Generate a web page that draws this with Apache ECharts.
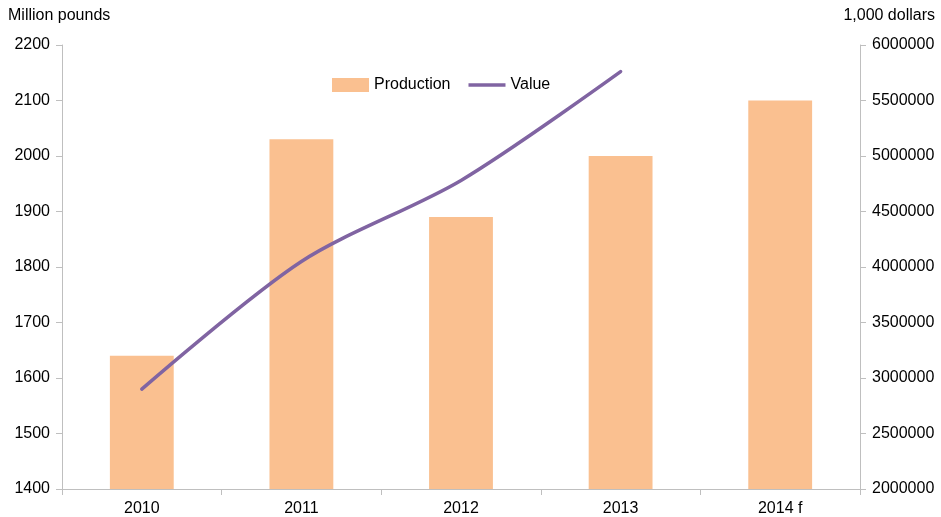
<!DOCTYPE html>
<html>
<head>
<meta charset="utf-8">
<script src="https://cdn.jsdelivr.net/npm/echarts@6/dist/echarts.min.js"></script>
<style>
  html, body { margin: 0; padding: 0; background: #fff; }
  #chart { width: 941px; height: 517px; }
</style>
</head>
<body>
<div id="chart"></div>
<script>
const years = ['2010', '2011', '2012', '2013', '2014 f']
const production = [1640, 2030, 1890, 2000, 2100]
// value in 1,000 dollars, no figure for 2014
const value = [2900000, 4050000, 4780000, 5760000, null]

const chart = echarts.init(document.getElementById('chart'))

const axisGray = '#BFBFBF'
const font = 'Liberation Sans, Arial'
const textStyle = { color: '#000', fontFamily: font, fontSize: 16 }

chart.setOption({
  animation: false,
  grid: { left: 62, right: 81, top: 45, bottom: 28 },
  legend: {
    left: 327,
    top: 72,
    itemWidth: 37,
    itemHeight: 14,
    itemGap: 18,
    textStyle: { ...textStyle, fontSize: 16 },
    data: [
      { name: 'Production', icon: 'rect' },
      { name: 'Value', icon: 'path://M0,0h40v4h-40z' },
    ],
  },
  graphic: [
    { type: 'text', left: 8, top: 8, style: { text: 'Million pounds', fill: '#000', fontFamily: font, fontSize: 16 } },
    { type: 'text', right: 6, top: 8, style: { text: '1,000 dollars', fill: '#000', fontFamily: font, fontSize: 16 } },
  ],
  xAxis: {
    type: 'category',
    data: years,
    axisLine: { lineStyle: { color: axisGray } },
    axisTick: { show: true, length: 6, lineStyle: { color: axisGray } },
    axisLabel: { ...textStyle, margin: 12 },
  },
  yAxis: [
    {
      type: 'value',
      min: 1400,
      max: 2200,
      interval: 100,
      splitLine: { show: false },
      axisLine: { show: true, lineStyle: { color: axisGray } },
      axisTick: { show: true, length: 6, lineStyle: { color: axisGray } },
      axisLabel: { ...textStyle, margin: 12, formatter: (v) => String(v) },
    },
    {
      type: 'value',
      min: 2000000,
      max: 6000000,
      interval: 500000,
      splitLine: { show: false },
      axisLine: { show: true, lineStyle: { color: axisGray } },
      axisTick: { show: true, length: 6, lineStyle: { color: axisGray } },
      axisLabel: { ...textStyle, margin: 12, formatter: (v) => String(v) },
    },
  ],
  series: [
    {
      name: 'Production',
      type: 'bar',
      data: production,
      barWidth: '40%',
      itemStyle: { color: '#FAC090' },
    },
    {
      name: 'Value',
      type: 'line',
      yAxisIndex: 1,
      data: value,
      smooth: 0.3,
      symbol: 'none',
      lineStyle: { color: '#8064A2', width: 3.5, cap: 'round' },
      itemStyle: { color: '#8064A2' },
    },
  ],
})
</script>
</body>
</html>
